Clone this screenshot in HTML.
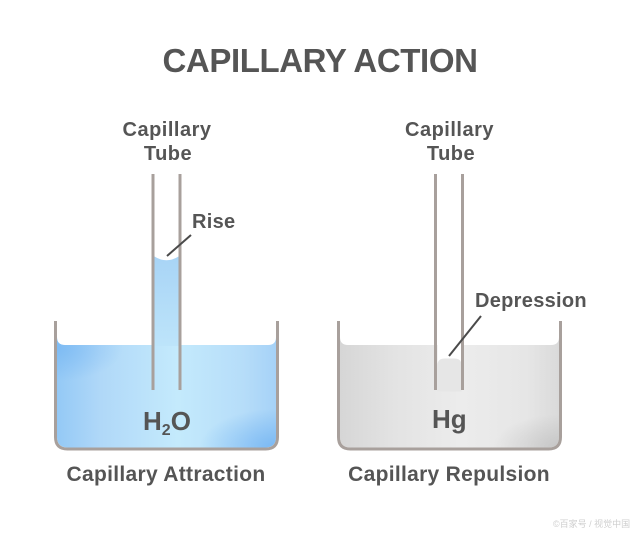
<!DOCTYPE html>
<html>
<head>
<meta charset="utf-8">
<style>
html,body{margin:0;padding:0;background:#fff;}
svg{display:block;}
text{font-family:"Liberation Sans","Noto Sans CJK SC",sans-serif;font-weight:bold;fill:#555555;}
</style>
</head>
<body>
<svg width="640" height="534" viewBox="0 0 640 534" xmlns="http://www.w3.org/2000/svg">
<defs>
<linearGradient id="water" x1="0" y1="0" x2="1" y2="0">
<stop offset="0" stop-color="#94c9f6"/>
<stop offset="0.2" stop-color="#b0d8f8"/>
<stop offset="0.55" stop-color="#c4eafc"/>
<stop offset="0.85" stop-color="#b6ddf9"/>
<stop offset="1" stop-color="#a6d2f7"/>
</linearGradient>
<radialGradient id="cornerBR" cx="1" cy="1" r="0.35">
<stop offset="0" stop-color="#6fb2f2" stop-opacity="0.8"/>
<stop offset="1" stop-color="#6fb2f2" stop-opacity="0"/>
</radialGradient>
<radialGradient id="cornerTL" cx="0" cy="0.1" r="0.3">
<stop offset="0" stop-color="#6fb2f2" stop-opacity="0.6"/>
<stop offset="1" stop-color="#6fb2f2" stop-opacity="0"/>
</radialGradient>
<linearGradient id="tubewater" x1="0" y1="0" x2="0" y2="1">
<stop offset="0" stop-color="#a8d4f6"/>
<stop offset="1" stop-color="#bde4fa"/>
</linearGradient>
<linearGradient id="hg" x1="0" y1="0" x2="1" y2="0">
<stop offset="0" stop-color="#d6d6d6"/>
<stop offset="0.25" stop-color="#e3e3e3"/>
<stop offset="0.55" stop-color="#ececec"/>
<stop offset="0.85" stop-color="#e6e6e6"/>
<stop offset="1" stop-color="#dadada"/>
</linearGradient>
<radialGradient id="hgBR" cx="1" cy="1" r="0.3">
<stop offset="0" stop-color="#bdbdbd" stop-opacity="0.7"/>
<stop offset="1" stop-color="#bdbdbd" stop-opacity="0"/>
</radialGradient>
</defs>

<!-- Title -->
<text x="320" y="72" font-size="33" text-anchor="middle" letter-spacing="-0.4">CAPILLARY ACTION</text>

<!-- Labels top -->
<text x="167" y="136" font-size="20" text-anchor="middle" letter-spacing="0.5">Capillary</text>
<text x="168" y="160" font-size="20" text-anchor="middle" letter-spacing="0.5">Tube</text>
<text x="449.5" y="136" font-size="20" text-anchor="middle" letter-spacing="0.5">Capillary</text>
<text x="451" y="160" font-size="20" text-anchor="middle" letter-spacing="0.5">Tube</text>

<!-- LEFT: water -->
<path d="M57,337 Q57,345 65,345 H268 Q276,345 276,337 V437 Q276,447.5 265,447.5 H68 Q57,447.5 57,437 Z" fill="url(#water)"/>
<path d="M57,337 Q57,345 65,345 H268 Q276,345 276,337 V437 Q276,447.5 265,447.5 H68 Q57,447.5 57,437 Z" fill="url(#cornerBR)"/>
<path d="M57,337 Q57,345 65,345 H268 Q276,345 276,337 V437 Q276,447.5 265,447.5 H68 Q57,447.5 57,437 Z" fill="url(#cornerTL)"/>
<path d="M154.5,256.5 Q166.5,264 178.5,256.5 V346 H154.5 Z" fill="url(#tubewater)"/>
<!-- left beaker -->
<path d="M55.5,321 V437 Q55.5,449 67.5,449 H265.5 Q277.5,449 277.5,437 V321" fill="none" stroke="#a8a09c" stroke-width="3"/>
<!-- left tube -->
<line x1="153" y1="174" x2="153" y2="390" stroke="#a8a09c" stroke-width="3"/>
<line x1="180" y1="174" x2="180" y2="390" stroke="#a8a09c" stroke-width="3"/>
<!-- Rise -->
<line x1="167" y1="256" x2="191" y2="235" stroke="#4a4a4a" stroke-width="2"/>
<text x="192" y="228" font-size="20" letter-spacing="0.3">Rise</text>
<text x="143" y="430" font-size="26">H<tspan font-size="16" dy="5">2</tspan><tspan dy="-5">O</tspan></text>

<!-- RIGHT: mercury -->
<path d="M340,337 Q340,345 348,345 H551 Q559,345 559,337 V437 Q559,447.5 548,447.5 H351 Q340,447.5 340,437 Z" fill="url(#hg)"/>
<path d="M340,337 Q340,345 348,345 H551 Q559,345 559,337 V437 Q559,447.5 548,447.5 H351 Q340,447.5 340,437 Z" fill="url(#hgBR)"/>
<rect x="437.5" y="344" width="24" height="24" fill="#ffffff"/>
<path d="M437.5,368 V365 Q437.5,358.5 445,358.5 H454 Q461.5,358.5 461.5,365 V368 Z" fill="#e6e6e6"/>
<rect x="437.5" y="367.5" width="24" height="24" fill="#e6e6e6"/>
<!-- right beaker -->
<path d="M338.5,321 V437 Q338.5,449 350.5,449 H548.5 Q560.5,449 560.5,437 V321" fill="none" stroke="#a8a09c" stroke-width="3"/>
<!-- right tube -->
<line x1="435.5" y1="174" x2="435.5" y2="390" stroke="#a8a09c" stroke-width="3"/>
<line x1="462.5" y1="174" x2="462.5" y2="390" stroke="#a8a09c" stroke-width="3"/>
<!-- Depression -->
<line x1="449" y1="356" x2="481" y2="316" stroke="#4a4a4a" stroke-width="2"/>
<text x="475" y="307" font-size="20" letter-spacing="0.3">Depression</text>
<text x="432" y="428" font-size="26">Hg</text>

<!-- bottom labels -->
<text x="166" y="481" font-size="21" text-anchor="middle" letter-spacing="0.3">Capillary Attraction</text>
<text x="449" y="481" font-size="21" text-anchor="middle" letter-spacing="0.3">Capillary Repulsion</text>

<!-- watermark -->
<text x="553" y="527" font-size="9" style="fill:#cfcfcf;font-weight:normal">©百家号 / 视觉中国</text>
</svg>
</body>
</html>
